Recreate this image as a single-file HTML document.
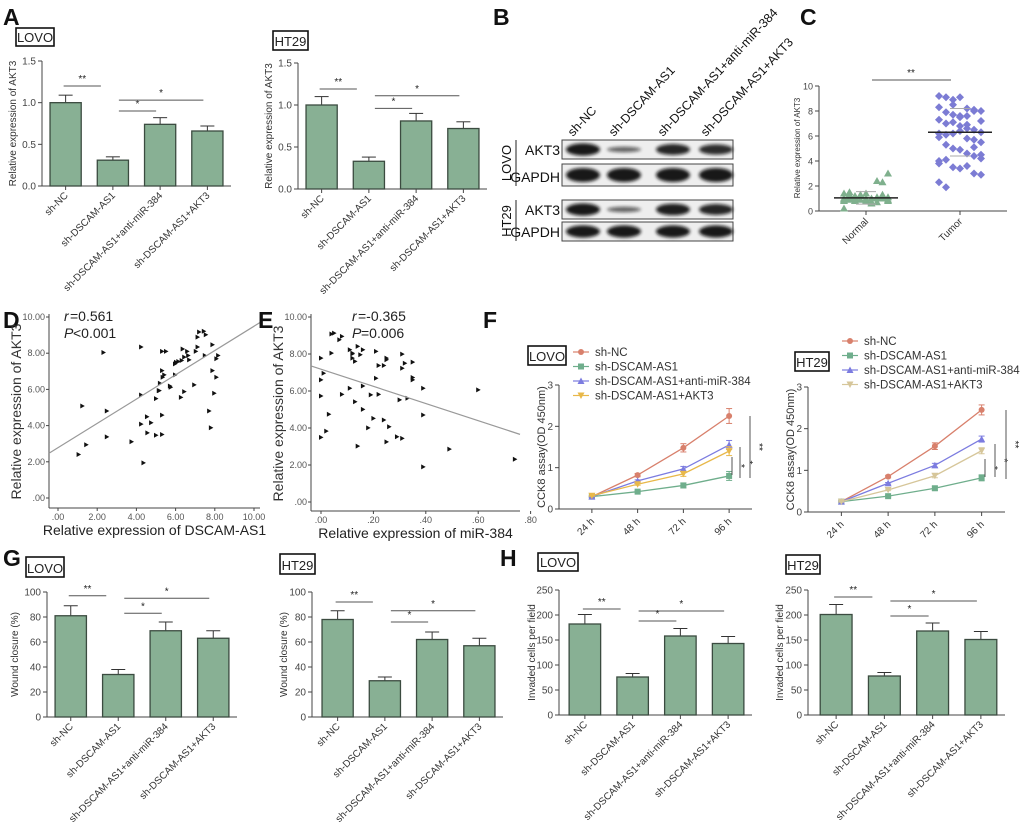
<!DOCTYPE html>
<html><head><meta charset="utf-8"><style>
html,body{margin:0;padding:0;background:#fff}
svg{display:block;font-family:"Liberation Sans",Arial,sans-serif}
</style></head><body>
<svg id="fig" width="1020" height="829" viewBox="0 0 1020 829" xmlns="http://www.w3.org/2000/svg">
<defs><filter id="blur" x="-20%" y="-50%" width="140%" height="200%"><feGaussianBlur stdDeviation="1.6"/></filter></defs>
</svg>
<script>
// ---------- data ----------
const barCats = ["sh-NC","sh-DSCAM-AS1","sh-DSCAM-AS1+anti-miR-384","sh-DSCAM-AS1+AKT3"];
const aLovoVals = [1.0,0.31,0.74,0.66];
const aLovoErr = [0.09,0.04,0.08,0.06];
const aHt29Vals = [1.0,0.33,0.81,0.72];
const aHt29Err = [0.10,0.05,0.09,0.08];
const gLovoVals = [81,34,69,63];
const gLovoErr = [8,4,7,6];
const gHt29Vals = [78,29,62,57];
const gHt29Err = [7,3,6,6];
const hLovoVals = [182,76,158,143];
const hLovoErr = [19,7,15,14];
const hHt29Vals = [201,78,168,151];
const hHt29Err = [20,7,16,16];
const timeCats = ["24 h","48 h","72 h","96 h"];
const seriesNames = ["sh-NC","sh-DSCAM-AS1","sh-DSCAM-AS1+anti-miR-384","sh-DSCAM-AS1+AKT3"];
const fLovoNC = [0.30,0.82,1.48,2.25];
const fLovoDS = [0.30,0.42,0.57,0.80];
const fLovoAnti = [0.30,0.68,0.97,1.55];
const fLovoAkt = [0.32,0.60,0.85,1.40];
const fLovoErr = [0.02,0.04,0.10,0.18];
const fHtNC = [0.25,0.85,1.58,2.45];
const fHtDS = [0.25,0.38,0.57,0.82];
const fHtAnti = [0.25,0.69,1.12,1.75];
const fHtAkt = [0.25,0.53,0.87,1.47];
const fHtErr = [0.02,0.03,0.08,0.12];
const dX = [1.05,1.44,1.24,2.32,2.49,2.49,3.75,4.24,4.24,4.24,4.36,4.54,4.75,4.56,5.0,5.0,5.14,5.2,5.31,5.51,5.31,5.34,5.42,5.31,5.31,5.17,5.71,5.75,5.97,5.97,6.02,6.14,6.27,6.31,6.44,6.44,6.36,6.59,6.69,6.64,6.95,7.03,7.12,7.12,7.2,7.44,7.54,7.49,7.71,7.8,7.88,7.88,7.97,8.08,8.08,8.17];
const dY = [2.40,2.94,5.08,8.04,4.81,3.38,3.11,8.34,5.69,4.08,1.94,4.49,4.16,3.60,3.47,5.49,5.93,6.34,8.10,8.10,7.04,6.67,6.80,4.58,3.51,5.93,6.19,6.12,6.80,7.41,7.50,7.54,5.56,7.60,5.88,7.78,8.23,8.10,7.63,7.87,6.25,8.10,8.34,8.89,9.17,9.21,9.02,7.87,4.81,3.88,8.47,7.04,5.79,6.67,7.69,7.87];
const dFit = [0.671,2.78];
const eX = [0,.02,0,0,.01,0,.03,.04,.04,.05,.07,.08,.08,.11,.11,.12,.12,.12,.13,.13,.14,.15,.16,.16,.16,.14,.18,.19,.20,.21,.21,.22,.22,.24,.24,.25,.25,.25,.26,.29,.30,.31,.31,.31,.32,.33,.35,.35,.35,.39,.39,.39,.49,.60,.74];
const eY = [3.49,3.83,5.73,6.6,6.96,7.78,4.74,8.05,9.08,9.13,8.77,8.95,5.82,6.15,8.23,8.01,7.78,8.05,5.42,7.60,8.41,7.96,8.23,6.27,5.01,3.02,4.01,5.79,4.52,8.14,6.69,5.82,7.38,4.43,7.38,7.69,7.78,3.25,4.07,3.53,5.52,7.99,7.23,3.44,7.50,5.61,7.56,6.73,6.6,6.15,4.70,1.90,2.86,6.06,2.31];
const eFit = [-4.64,7.18];
const cNormal = [1.0,0.9,1.1,1.2,0.8,1.0,0.7,1.3,1.1,0.9,1.0,0.8,1.2,1.4,0.7,1.0,1.1,0.9,0.8,1.3,1.0,1.2,0.9,0.7,1.1,1.0,0.8,1.4,1.5,1.2,0.9,1.0,0.6,2.4,2.3,3.0,0.2,1.1,0.8,1.3];
const cTumor = [9.2,9.1,8.9,9.1,8.2,8.1,8.0,8.3,7.9,7.7,7.6,7.6,8.0,7.2,7.3,7.0,7.1,6.8,6.6,6.5,6.3,6.2,6.1,6.2,6.4,5.8,5.7,5.5,5.9,5.3,5.0,4.9,4.6,4.4,4.2,4.0,4.1,3.5,3.4,3.6,3.0,2.9,2.3,1.9,8.5,7.5,6.9,5.1,4.5,3.8];
const cMeans = [1.05,6.3];
const cSem = [0.5,1.9];

// ---------- helpers ----------
const NS="http://www.w3.org/2000/svg";
const svg=document.getElementById('fig');
function mk(tag,parent,attrs,text){const e=document.createElementNS(NS,tag);for(const k in attrs)e.setAttribute(k,attrs[k]);if(text!==undefined)e.textContent=text;parent.appendChild(e);return e;}
function grp(name){const g=mk('g',svg,{});


return g;}
function txt(p,x,y,s,size,extra,name){const t=mk('text',p,Object.assign({x:x,y:y,'font-size':size,fill:'#222'},extra||{}),s);


return t;}
function line(p,x1,y1,x2,y2,c,w,name){const l=mk('line',p,{x1:x1,y1:y1,x2:x2,y2:y2,stroke:c||'#444','stroke-width':w||1});


return l;}
function box(p,x,y,w,h,s,name){const r=mk('rect',p,{x:x,y:y,width:w,height:h,fill:'#fff',stroke:'#111','stroke-width':1.6});


txt(p,x+w/2,y+h-4,s,13,{'text-anchor':'middle'},name+'-text');}
function letter(x,y,s){txt(svg,x,y,s,23,{'font-weight':'bold',fill:'#111'},'panel-letter-'+s.toLowerCase());}

function yAxis(p,x0,yTop,yBot,max,ticks,fmt,size){
  const ys=v=>yBot-(v/max)*(yBot-yTop);
  line(p,x0,yTop,x0,yBot,'#444',1,'y-axis');
  ticks.forEach(t=>{line(p,x0-4,ys(t),x0,ys(t),'#444',1,'y-tick');txt(p,x0-6,ys(t)+3.5,fmt(t),size||10,{'text-anchor':'end',fill:'#444'},'y-tick-label');});
  return ys;
}
function ylab(p,x,yc,s,size){txt(p,x,yc,s,size||10,{'text-anchor':'middle',transform:`rotate(-90 ${x} ${yc})`,fill:'#333'},'y-axis-title');}

function barChart(name,x0,xs,xEnd,yTop,yBot,max,ticks,fmt,vals,errs,sigs,ylabel,ylx){
  const g=grp(name);
  const ys=yAxis(g,x0,yTop,yBot,max,ticks,fmt);
  line(g,x0,yBot,xEnd,yBot,'#444',1,'x-axis');
  const step=(xEnd-xs)/vals.length,bw=step*0.66;
  const cx=i=>xs+(i+0.5)*step;
  vals.forEach((v,i)=>{
    const c=cx(i);
    line(g,c,ys(v),c,ys(v+errs[i]),'#333',1,'error-bar');
    line(g,c-7,ys(v+errs[i]),c+7,ys(v+errs[i]),'#333',1,'error-cap');
    const r=mk('rect',g,{x:c-bw/2,y:ys(v),width:bw,height:yBot-ys(v),fill:'#88b094',stroke:'#3b4b40','stroke-width':1.3});
    
    
    line(g,c,yBot,c,yBot+4,'#444',1,'x-tick');
    txt(g,c+3,yBot+10,barCats[i],10,{'text-anchor':'end',transform:`rotate(-45 ${c+3} ${yBot+10})`,fill:'#333'},'x-tick-label');
  });
  sigs.forEach(s=>{const y=ys(s[2]);const a=cx(s[0])+(s[0]===0?-2:6),b=cx(s[1])-(s[0]===0?12:4);
    line(g,a,y,b,y,'#555',1,'significance-bracket');
    txt(g,(a+b)/2,y-4,s[3],10,{'text-anchor':'middle'},'significance-label');});
  ylab(g,ylx,(yTop+yBot)/2,ylabel);
}

// ---------- Panel A ----------
letter(3,25,'A');
box(svg,16,28,38,18,'LOVO','cell-line-label-lovo-a');
box(svg,273,31,35,19,'HT29','cell-line-label-ht29-a');
barChart('chart-a-lovo',42,42,231,61,186,1.5,[0,0.5,1.0,1.5],v=>v.toFixed(1),aLovoVals,aLovoErr,[[0,1,1.2,'**'],[1,2,0.9,'*'],[1,3,1.03,'*']],'Relative expression of AKT3',16);
barChart('chart-a-ht29',298,298,487,63,189,1.5,[0,0.5,1.0,1.5],v=>v.toFixed(1),aHt29Vals,aHt29Err,[[0,1,1.19,'**'],[1,2,0.96,'*'],[1,3,1.11,'*']],'Relative expression of AKT3',272);

// ---------- Panel B (western blot) ----------
letter(493,25,'B');
(function(){
  const g=grp('western-blot');
  const lanes=[583,624,673,716];
  barCats.forEach((s,i)=>txt(g,lanes[i]-10,137,s,12.5,{transform:`rotate(-47 ${lanes[i]-10} 137)`,fill:'#111'},'lane-label'));
  const rows=[[140,159,'AKT3',[1,0.45,0.9,0.85]],[164,186,'GAPDH',[1,1,1,1]],[200,219,'AKT3',[1,0.45,0.95,0.9]],[222,241,'GAPDH',[1,1,1,1]]];
  rows.forEach(r=>{
    const rc=mk('rect',g,{x:562,y:r[0],width:171,height:r[1]-r[0],fill:'#eeeeee',stroke:'#444','stroke-width':1});
    
    
    txt(g,560,r[1]-4,r[2],14,{'text-anchor':'end',fill:'#111'},'protein-label');
    lanes.forEach((c,i)=>{const k=r[3][i];const e=mk('ellipse',g,{cx:c,cy:(r[0]+r[1])/2,rx:17,ry:(r[1]-r[0])*0.32*k,fill:'#111',opacity:0.35+0.6*k,filter:'url(#blur)'});
      
      });
  });
  line(g,516,140,516,186,'#222',1,'lovo-group-bar');
  line(g,516,200,516,241,'#222',1,'ht29-group-bar');
  txt(g,511,163,'LOVO',13,{'text-anchor':'middle',transform:'rotate(-90 511 163)',fill:'#111'},'group-label-lovo');
  txt(g,511,221,'HT29',13,{'text-anchor':'middle',transform:'rotate(-90 511 221)',fill:'#111'},'group-label-ht29');
})();

// ---------- Panel C ----------
letter(800,25,'C');
(function(){
  const g=grp('chart-c-scatter');
  const ys=yAxis(g,819,86,211,10,[0,2,4,6,8,10],v=>String(v),9);
  line(g,819,211,1007,211,'#444',1,'x-axis');
  const xc=[866,960],cats=['Normal','Tumor'];
  cats.forEach((c,i)=>{line(g,xc[i],211,xc[i],215,'#444',1,'x-tick');txt(g,xc[i]+3,222,c,10,{'text-anchor':'end',transform:`rotate(-45 ${xc[i]+3} 222)`,fill:'#333'},'x-tick-label');});
  cNormal.forEach((v,i)=>{const x=xc[0]+((i%9)-4)*5.5;const y=ys(v);
    const p=mk('path',g,{d:`M${x} ${y-4}L${x+4} ${y+3}L${x-4} ${y+3}Z`,fill:'#7fb08d'});
    
    });
  cTumor.forEach((v,i)=>{const x=xc[1]+((i%7)-3)*7;const y=ys(v);
    const p=mk('path',g,{d:`M${x} ${y-4}L${x+4} ${y}L${x} ${y+4}L${x-4} ${y}Z`,fill:'#7c7cd4'});
    
    });
  cMeans.forEach((m,i)=>{line(g,xc[i]-32,ys(m),xc[i]+32,ys(m),'#222',1.5,'mean-line');
    line(g,xc[i]-10,ys(m-cSem[i]),xc[i]+10,ys(m-cSem[i]),'#aaa',1,'sd-line');
    line(g,xc[i]-10,ys(m+cSem[i]),xc[i]+10,ys(m+cSem[i]),'#aaa',1,'sd-line');});
  line(g,872,80,951,80,'#555',1,'significance-bracket');
  txt(g,911,76,'**',10,{'text-anchor':'middle'},'significance-label');
  ylab(g,800,148,'Relative expression of AKT3',8);
})();

// ---------- Panels D / E ----------
function corr(name,x0,xAxisY,xLeftPix,pxPerX,yTopPix,yBotPix,xTicks,xFmt,xs,ysD,fit,xlabel,rtxt,ptxt,txtX,xEnd){
  const g=grp(name);
  const ys=v=>yBotPix-(v/10)*(yBotPix-yTopPix);
  const xsc=v=>xLeftPix+v*pxPerX;
  line(g,x0,yTopPix-3,x0,xAxisY,'#444',1,'y-axis');
  [0,2,4,6,8,10].forEach(t=>{line(g,x0-3,ys(t),x0,ys(t),'#444',1,'y-tick');txt(g,x0-4,ys(t)+3,t===0?'.00':t.toFixed(2),9,{'text-anchor':'end',fill:'#555'},'y-tick-label');});
  line(g,x0,xAxisY,xEnd,xAxisY,'#444',1,'x-axis');
  xTicks.forEach(t=>{line(g,xsc(t),xAxisY,xsc(t),xAxisY+3,'#444',1,'x-tick');txt(g,xsc(t),xAxisY+12,xFmt(t),9,{'text-anchor':'middle',fill:'#555'},'x-tick-label');});
  xs.forEach((v,i)=>{const x=xsc(v),y=ys(ysD[i]);const p=mk('path',g,{d:`M${x-2} ${y-2.5}L${x+2.5} ${y}L${x-2} ${y+2.5}Z`,fill:'#111'});
    
    });
  const xa=(x0-xLeftPix)/pxPerX,xb=(xEnd-xLeftPix)/pxPerX;
  line(g,xsc(xa),ys(fit[0]*xa+fit[1]),xsc(xb),ys(fit[0]*xb+fit[1]),'#999',1.2,'regression-line');
  txt(g,(x0+xEnd)/2,xAxisY+27,xlabel,14,{'text-anchor':'middle',fill:'#222'},'x-axis-title');
  ylab(g,x0-28,(yTopPix+yBotPix)/2+4,'Relative expression of AKT3',14);
  txt(g,txtX,321,rtxt[0],14,{'font-style':'italic'},'stat-r-symbol');
  txt(g,txtX+6,321,rtxt[1],14,{},'stat-r-value');
  txt(g,txtX,338,ptxt[0],14,{'font-style':'italic'},'stat-p-symbol');
  txt(g,txtX+9,338,ptxt[1],14,{},'stat-p-value');
}
letter(3,328,'D');
corr('chart-d-correlation',49,508,58,19.6,317,498,[0,2,4,6,8,10],v=>v===0?'.00':v.toFixed(2),dX,dY,dFit,'Relative expression of DSCAM-AS1',['r','=0.561'],['P','<0.001'],64,260);
letter(258,328,'E');
corr('chart-e-correlation',311,511,321,262,317,502,[0,0.2,0.4,0.6,0.8],v=>v===0?'.00':'.'+Math.round(v*100),eX,eY,eFit,'Relative expression of miR-384',['r','=-0.365'],['P','=0.006'],352,520);
letter(483,328,'F');

// ---------- Panel F (CCK8) ----------
const fColorsLovo=['#d8806c','#6fae8c','#7c7ce0','#e8b84a'];
const fColorsHt=['#d8806c','#6fae8c','#7c7ce0','#d6c69a'];
function lineChart(name,x0,xEnd,yTop,yBot,series,err,colors,legX,legY,legStep,sigs){
  const g=grp(name);
  const ys=yAxis(g,x0,yTop,yBot,3,[0,1,2,3],v=>String(v),10);
  line(g,x0,yBot,xEnd,yBot,'#444',1,'x-axis');
  const step=(xEnd-x0-10)/4;const cx=i=>x0+10+(i+0.5)*step;
  timeCats.forEach((t,i)=>{line(g,cx(i),yBot,cx(i),yBot+4,'#444',1,'x-tick');txt(g,cx(i)+3,yBot+13,t,10,{'text-anchor':'end',transform:`rotate(-45 ${cx(i)+3} ${yBot+13})`,fill:'#333'},'x-tick-label');});
  series.forEach((s,k)=>{
    const pl=mk('polyline',g,{points:s.map((v,i)=>cx(i)+','+ys(v)).join(' '),fill:'none',stroke:colors[k],'stroke-width':1.3});
    
    
    s.forEach((v,i)=>{
      const e=err[i]*(k===0?1:0.6);
      line(g,cx(i),ys(v-e),cx(i),ys(v+e),colors[k],1,'error-bar');
      line(g,cx(i)-3,ys(v+e),cx(i)+3,ys(v+e),colors[k],1,'error-cap');
      line(g,cx(i)-3,ys(v-e),cx(i)+3,ys(v-e),colors[k],1,'error-cap');
      marker(g,k,cx(i),ys(v),colors[k]);
    });
    const ly=legY+k*legStep;
    line(g,legX-8,ly,legX+8,ly,colors[k],1.2,'legend-line');
    marker(g,k,legX,ly,colors[k]);
    txt(g,legX+14,ly+4,seriesNames[k],11.5,{fill:'#333'},'legend-entry');
  });
  sigs.forEach(s=>{line(g,s[0],s[1],s[0],s[2],'#555',1,'significance-bracket');
    txt(g,s[0]+6,(s[1]+s[2])/2,s[3],10,{'text-anchor':'middle',transform:`rotate(90 ${s[0]+6} ${(s[1]+s[2])/2})`},'significance-label');});
  ylab(g,x0-14,(yTop+yBot)/2,'CCK8 assay(OD 450nm)',11);
}
function marker(g,k,x,y,c){let p;
  if(k===0)p=mk('circle',g,{cx:x,cy:y,r:3,fill:c});
  else if(k===1)p=mk('rect',g,{x:x-3,y:y-3,width:6,height:6,fill:c});
  else if(k===2)p=mk('path',g,{d:`M${x} ${y-3.5}L${x+3.5} ${y+3}L${x-3.5} ${y+3}Z`,fill:c});
  else p=mk('path',g,{d:`M${x} ${y+3.5}L${x+3.5} ${y-3}L${x-3.5} ${y-3}Z`,fill:c});
  
  }
box(svg,528,346,38,19,'LOVO','cell-line-label-lovo-f');
box(svg,795,352,34,19,'HT29','cell-line-label-ht29-f');
lineChart('chart-f-lovo',559,752,385,509,[fLovoNC,fLovoDS,fLovoAnti,fLovoAkt],fLovoErr,fColorsLovo,581,352,14.5,[[732,457,475,'*'],[740,447,478,'*'],[750,416,478,'**']]);
lineChart('chart-f-ht29',808,1005,387,512,[fHtNC,fHtDS,fHtAnti,fHtAkt],fHtErr,fColorsHt,850,341,14.5,[[985,459,477,'*'],[995,444,477,'*'],[1006,410,479,'**']]);

// ---------- Panel G / H ----------
letter(3,566,'G');
box(svg,26,557,38,20,'LOVO','cell-line-label-lovo-g');
box(svg,280,554,35,20,'HT29','cell-line-label-ht29-g');
barChart('chart-g-lovo',47,47,237,592,717,100,[0,20,40,60,80,100],v=>String(v),gLovoVals,gLovoErr,[[0,1,97,'**'],[1,2,83,'*'],[1,3,95,'*']],'Wound closure (%)',18);
barChart('chart-g-ht29',312,314,503,592,717,100,[0,20,40,60,80,100],v=>String(v),gHt29Vals,gHt29Err,[[0,1,92,'**'],[1,2,76,'*'],[1,3,85,'*']],'Wound closure (%)',287);
letter(500,566,'H');
box(svg,538,553,40,18,'LOVO','cell-line-label-lovo-h');
box(svg,786,555,34,19,'HT29','cell-line-label-ht29-h');
barChart('chart-h-lovo',559,561,752,590,715,250,[0,50,100,150,200,250],v=>String(v),hLovoVals,hLovoErr,[[0,1,212,'**'],[1,2,188,'*'],[1,3,208,'*']],'Invaded cells per field',535);
barChart('chart-h-ht29',808,812,1005,590,715,250,[0,50,100,150,200,250],v=>String(v),hHt29Vals,hHt29Err,[[0,1,236,'**'],[1,2,198,'*'],[1,3,228,'*']],'Invaded cells per field',783);
</script>
</body></html>
